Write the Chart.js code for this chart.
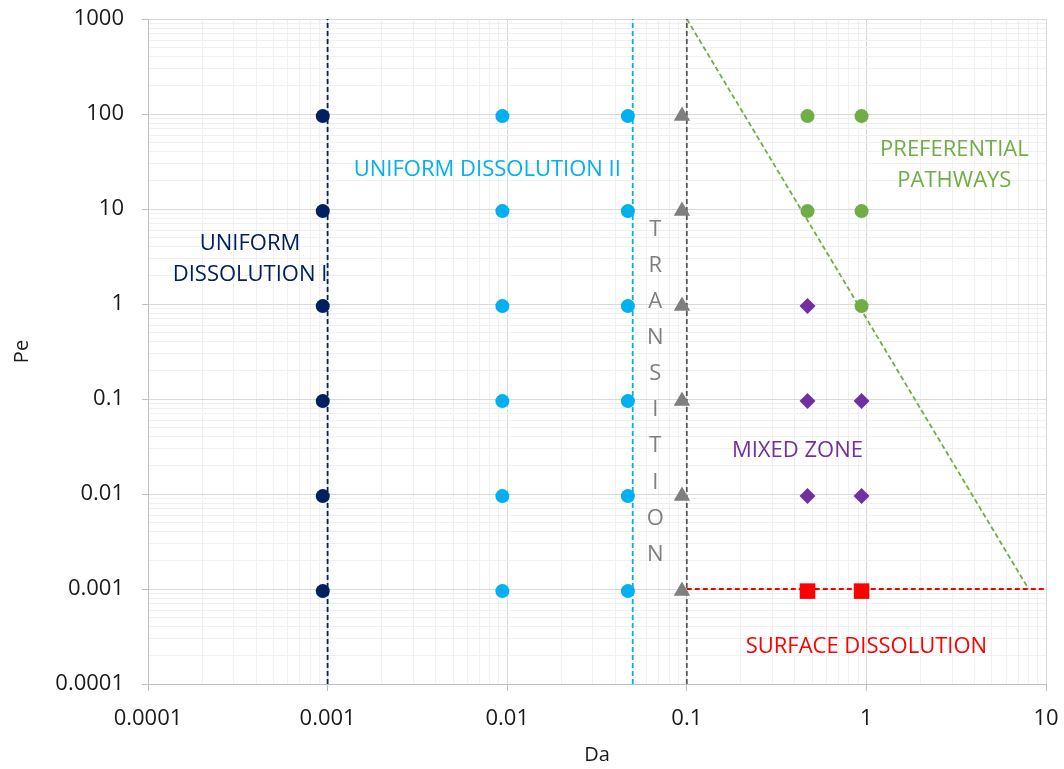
<!DOCTYPE html>
<html><head><meta charset="utf-8">
<script src="https://cdn.jsdelivr.net/npm/chart.js@4.4.0/dist/chart.umd.min.js"></script>
<style>html,body{margin:0;padding:0;background:#fff}#wrap{width:1064px;height:769px;position:relative}</style>
</head><body><div id="wrap"><canvas id="c" width="1064" height="769"></canvas></div>
<script>
// ---- tick labels ----
const xTickLabels = ['0.0001','0.001','0.01','0.1','1','10'];
const yTickLabels = ['0.0001','0.001','0.01','0.1','1','10','100','1000'];

// ---- measured points ----
const peLevels = [95, 9.5, 0.95, 0.095, 0.0095, 0.00095];
const uniform1Da = [0.00094];
const uniform2Da = [0.0094, 0.047];
const transitionDa = [0.094];
const preferentialDa = [0.47, 0.94, 0.47, 0.94, 0.94];
const preferentialPe = [95, 95, 9.5, 9.5, 0.95];
const mixedDa = [0.47, 0.47, 0.94, 0.47, 0.94];
const mixedPe = [0.95, 0.095, 0.095, 0.0095, 0.0095];
const surfaceDa = [0.47, 0.94];
const surfacePe = [0.00095, 0.00095];

// ---- regime boundary lines ----
const boundary1Da = [0.001, 0.001];   const boundary1Pe = [0.0001, 1000];
const boundary2Da = [0.05, 0.05];     const boundary2Pe = [0.0001, 1000];
const boundary3Da = [0.1, 0.1];       const boundary3Pe = [0.0001, 1000];
const boundary4Da = [0.1, 8];         const boundary4Pe = [1000, 0.001];
const boundary5Da = [0.1, 10];        const boundary5Pe = [0.001, 0.001];

// ---- region labels (data coordinates) ----
const regionLabels = [
  {lines:['UNIFORM','DISSOLUTION I'], x:0.00037, y:3.1, color:'#002060', lh:31},
  {lines:['UNIFORM DISSOLUTION II'], x:0.00775, y:27, color:'#00b0f0', lh:31},
  {lines:['PREFERENTIAL','PATHWAYS'], x:3.09, y:30, color:'#70ad47', lh:31},
  {lines:'TRANSITION'.split(''), x:0.0668, y:0.123, color:'#7f7f7f', lh:36.1},
  {lines:['MIXED ZONE'], x:0.413, y:0.0298, color:'#7030a0', lh:31},
  {lines:['SURFACE DISSOLUTION'], x:1.0, y:0.000258, color:'#ff0000', lh:31}
];

const FONT = '"Open Sans", "DejaVu Sans", sans-serif';
const FS = 22;

function zip(xs, ys){ return xs.map((v,i)=>({x:v, y:ys[i]})); }
function grid(xs, ys){ const out=[]; ys.forEach(yv=>xs.forEach(xv=>out.push({x:xv,y:yv}))); return out; }

function logTicks(labels){
  const majors = labels.map(Number);
  const ticks = [];
  majors.forEach((m,i)=>{
    ticks.push({value:m, major:true});
    if (i < majors.length-1) for (let k=2;k<=9;k++) ticks.push({value:m*k, major:false});
  });
  return ticks;
}
function labelFor(labels, value){
  const f = labels.find(l => Math.abs(Number(l)-value) < Number(l)*1e-6);
  return f === undefined ? '' : f;
}

const lineDs = (label, xs, ys, color) => ({
  type:'line', label, data: zip(xs, ys), borderColor: color, borderWidth: 1.8,
  borderDash:[5,3], pointRadius:0, fill:false, tension:0, order: 10
});
const ptDs = (label, data, color, style, r) => ({
  type:'scatter', label, data, backgroundColor: color, borderColor: color,
  pointStyle: style, pointRadius: r, pointHoverRadius: r, borderWidth: 0, order: 1
});

const textPlugin = {
  id:'regionText',
  afterDatasetsDraw(chart){
    const {ctx, scales:{x, y}} = chart;
    ctx.save();
    ctx.font = FS + 'px ' + FONT;
    ctx.textAlign = 'center';
    ctx.textBaseline = 'alphabetic';
    const capHalf = FS * 0.714 / 2;
    regionLabels.forEach(l => {
      const px = x.getPixelForValue(l.x), py = y.getPixelForValue(l.y);
      const n = l.lines.length;
      ctx.fillStyle = l.color;
      l.lines.forEach((t,i) => ctx.fillText(t, px, py + capHalf + (i-(n-1)/2)*l.lh));
    });
    ctx.restore();
  }
};

const majorColor = ctx => (ctx.tick && ctx.tick.major) ? '#d9d9d9' : '#f0f0f0';
const tickCol = ctx => (ctx.tick && ctx.tick.major) ? '#bfbfbf' : 'rgba(0,0,0,0)';

new Chart(document.getElementById('c'), {
  data: {
    datasets: [
      lineDs('b1', boundary1Da, boundary1Pe, '#002060'),
      lineDs('b2', boundary2Da, boundary2Pe, '#00b0f0'),
      lineDs('b3', boundary3Da, boundary3Pe, '#595959'),
      lineDs('b4', boundary4Da, boundary4Pe, '#70ad47'),
      lineDs('b5', boundary5Da, boundary5Pe, '#ff0000'),
      ptDs('Uniform I', grid(uniform1Da, peLevels), '#002060', 'circle', 7),
      ptDs('Uniform II', grid(uniform2Da, peLevels), '#00b0f0', 'circle', 7),
      ptDs('Transition', grid(transitionDa, peLevels), '#7f7f7f', 'triangle', 9.5),
      ptDs('Preferential', zip(preferentialDa, preferentialPe), '#70ad47', 'circle', 7),
      ptDs('Mixed', zip(mixedDa, mixedPe), '#7030a0', 'rectRot', 8),
      ptDs('Surface', zip(surfaceDa, surfacePe), '#ff0000', 'rect', 11)
    ]
  },
  options: {
    responsive:false, animation:false, devicePixelRatio:1,
    layout:{padding:{left:0, right:18, top:19, bottom:0}},
    plugins:{legend:{display:false}, tooltip:{enabled:false}},
    scales:{
      x:{
        type:'logarithmic', min:0.0001, max:10,
        afterBuildTicks: s => { s.ticks = logTicks(xTickLabels); },
        afterFit: s => { s.height = 85; s.paddingLeft = 0; s.paddingRight = 0; },
        ticks:{autoSkip:false, maxRotation:0, padding:15, color:'#1a1a1a', font:{size:FS, family:FONT},
          callback: v => labelFor(xTickLabels, v)},
        grid:{color: majorColor, tickColor: tickCol, tickLength:7, lineWidth:1},
        border:{color:'#bfbfbf', width:1},
        title:{display:true, text:'Da', color:'#1a1a1a', font:{size:20, family:FONT}, padding:{top:0,bottom:2}}
      },
      y:{
        type:'logarithmic', min:0.0001, max:1000,
        afterBuildTicks: s => { s.ticks = logTicks(yTickLabels); },
        afterFit: s => { s.width = 148; s.paddingTop = 0; s.paddingBottom = 0; },
        ticks:{autoSkip:false, padding:18, color:'#1a1a1a', font:{size:FS, family:FONT},
          callback: v => labelFor(yTickLabels, v)},
        grid:{color: majorColor, tickColor: tickCol, tickLength:6, lineWidth:1},
        border:{color:'#bfbfbf', width:1},
        title:{display:true, text:'Pe', color:'#1a1a1a', font:{size:20, family:FONT}, padding:{top:10,bottom:0}}
      }
    }
  },
  plugins:[textPlugin]
});
</script>
</body></html>
